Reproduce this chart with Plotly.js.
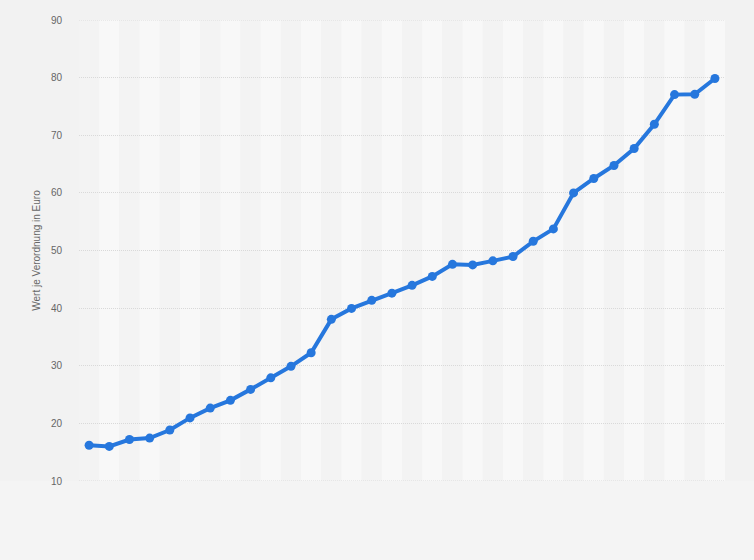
<!DOCTYPE html>
<html>
<head>
<meta charset="utf-8">
<script src="https://cdn.plot.ly/plotly-3.0.1.min.js"></script>
<style>html,body{margin:0;padding:0;background:#f4f4f4;}#chart{width:754px;height:560px;}</style>
</head>
<body>
<div id="chart"></div>
<script>
const years = ["1992","1993","1994","1995","1996","1997","1998","1999","2000","2001","2002","2003","2004","2005","2006","2007","2008","2009","2010","2011","2012","2013","2014","2015","2016","2017","2018","2019","2020","2021","2022","2023"];
const values = [16.2,16.0,17.2,17.45,18.85,20.95,22.65,24.0,25.9,27.9,29.9,32.25,38.05,39.95,41.35,42.6,43.95,45.5,47.6,47.5,48.2,48.95,51.6,53.75,60.0,62.5,64.75,67.7,71.9,77.05,77.1,79.85];
const yTickVals = [10,20,30,40,50,60,70,80,90];
const yTitle = "Wert je Verordnung in Euro";

const gridColor = '#d9d9d9';
const gridDash = '1px,1px';

const shapes = [];
shapes.push({type:'rect', xref:'paper', yref:'paper', x0:-1, x1:2, y0:-0.2, y1:0, fillcolor:'#f4f4f4', line:{width:0}, layer:'below'});
for (let i = 0; i < years.length; i++) {
  shapes.push({type:'rect', xref:'x', yref:'paper', x0:i-0.5, x1:i+0.5, y0:0, y1:1,
    fillcolor: (i % 2 === 1) ? '#f8f8f8' : '#f3f3f3', line:{width:0}, layer:'below'});
}
[yTickVals[0], yTickVals[yTickVals.length - 1]].forEach(v => {
  shapes.push({type:'line', xref:'paper', yref:'y', x0:0, x1:1, y0:v, y1:v,
    line:{color:gridColor, width:1, dash:gridDash}, layer:'below'});
});

const trace = {
  x: years.map((_, i) => i),
  y: values,
  type: 'scatter',
  mode: 'lines+markers',
  line: {color:'#2677dd', width:4},
  marker: {color:'#2677dd', size:9},
  hoverinfo: 'y',
  cliponaxis: false
};

const layout = {
  width: 754, height: 560,
  paper_bgcolor: '#f2f2f2',
  plot_bgcolor: 'rgba(0,0,0,0)',
  margin: {l:79, r:29, t:20, b:79},
  showlegend: false,
  shapes: shapes,
  xaxis: {
    range: [-0.5, years.length - 0.5],
    showticklabels: false, showgrid: false, zeroline: false, showline: false, ticks: ''
  },
  yaxis: {
    range: [10, 90], tickvals: yTickVals, ticktext: yTickVals.map(String),
    showgrid: true, gridcolor: gridColor, griddash: gridDash, gridwidth: 1,
    zeroline: false, showline: false,
    ticks: 'outside', ticklen: 14, tickcolor: 'rgba(0,0,0,0)',
    tickfont: {family: 'Liberation Sans, Arial, sans-serif', size: 10, color: '#666666'},
    title: {text: yTitle, font: {family: 'Liberation Sans, Arial, sans-serif', size: 10, color: '#666666'}, standoff: 8}
  },
  font: {family: 'Liberation Sans, Arial, sans-serif'}
};

Plotly.newPlot('chart', [trace], layout, {displayModeBar: false, staticPlot: true});
</script>
</body>
</html>
